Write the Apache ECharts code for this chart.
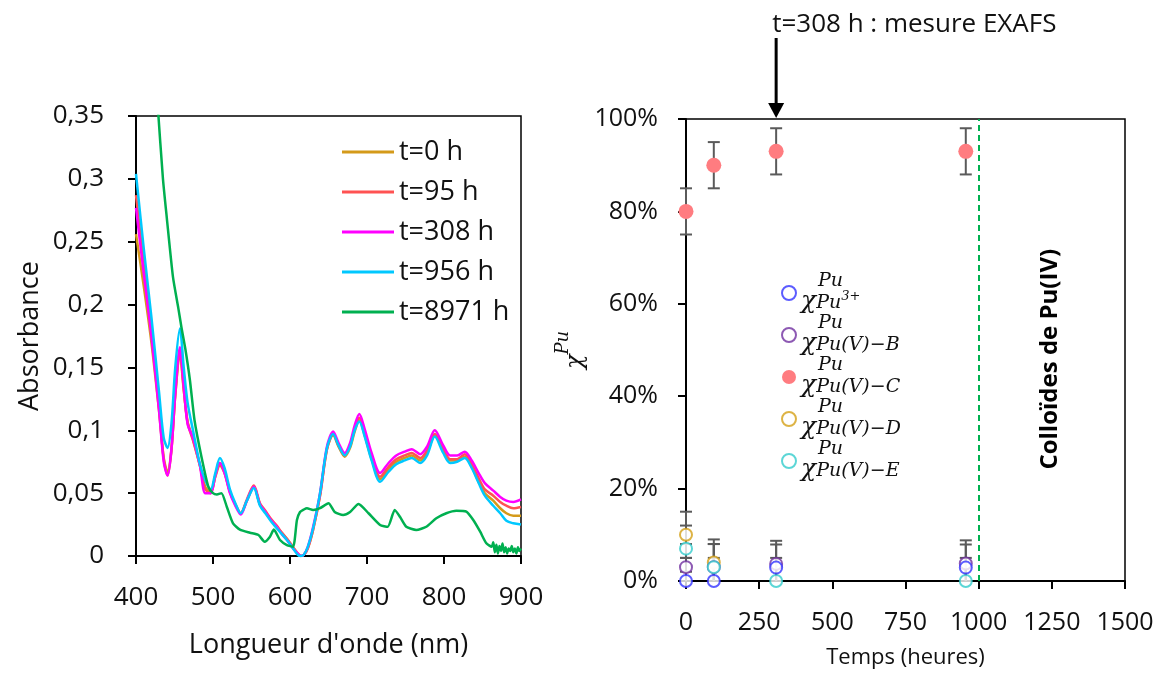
<!DOCTYPE html>
<html><head><meta charset="utf-8">
<script src="https://cdn.jsdelivr.net/npm/echarts@6/dist/echarts.min.js"></script>
<style>html,body{margin:0;padding:0;background:#fff}#c{width:1161px;height:678px}</style>
</head><body><div id="c"></div><script>
// ---------- Left chart: UV-vis spectra ----------
const WL = [400,410,420,430,436,441,446,451,457,462,467,474,483,490,497,503,509,515,522,529,536,544,553,561,568,576,583,590,597,604,610,614,618,623,630,639,648,656,663,671,678,684,690,697,706,717,728,738,749,758,769,778,788,799,808,817,827,836,845,853,864,873,881,890,900];
const A_0h = [0.256,0.215,0.170,0.115,0.078,0.067,0.085,0.128,0.160,0.132,0.107,0.093,0.072,0.055,0.051,0.063,0.072,0.066,0.051,0.041,0.034,0.044,0.055,0.041,0.035,0.028,0.023,0.018,0.013,0.007,0.002,0.000,0.001,0.006,0.021,0.048,0.085,0.096,0.087,0.079,0.086,0.099,0.108,0.096,0.077,0.061,0.069,0.075,0.078,0.080,0.076,0.082,0.096,0.084,0.076,0.076,0.079,0.071,0.059,0.050,0.044,0.038,0.034,0.032,0.032];
const A_95h = [0.287,0.232,0.180,0.118,0.077,0.064,0.084,0.128,0.163,0.133,0.106,0.092,0.072,0.053,0.050,0.064,0.074,0.067,0.051,0.041,0.034,0.045,0.056,0.042,0.036,0.029,0.024,0.018,0.013,0.007,0.002,0.000,0.001,0.006,0.021,0.048,0.085,0.097,0.088,0.080,0.088,0.101,0.110,0.098,0.079,0.063,0.071,0.077,0.080,0.082,0.078,0.084,0.097,0.085,0.077,0.077,0.081,0.073,0.062,0.053,0.048,0.043,0.040,0.038,0.039];
const A_308h = [0.277,0.225,0.175,0.115,0.075,0.064,0.085,0.130,0.166,0.135,0.105,0.094,0.072,0.050,0.050,0.064,0.074,0.066,0.050,0.040,0.033,0.044,0.055,0.041,0.035,0.028,0.023,0.017,0.012,0.006,0.002,0.000,0.001,0.007,0.023,0.050,0.087,0.099,0.090,0.082,0.090,0.104,0.113,0.101,0.082,0.066,0.074,0.080,0.083,0.085,0.081,0.087,0.100,0.088,0.080,0.080,0.083,0.076,0.066,0.058,0.052,0.047,0.044,0.043,0.045];
const A_956h = [0.304,0.245,0.190,0.130,0.094,0.086,0.105,0.150,0.181,0.150,0.122,0.100,0.073,0.060,0.053,0.066,0.078,0.070,0.053,0.042,0.034,0.044,0.054,0.040,0.034,0.027,0.022,0.017,0.012,0.006,0.001,0.000,0.001,0.007,0.022,0.050,0.086,0.097,0.088,0.080,0.087,0.100,0.107,0.095,0.076,0.059,0.067,0.073,0.076,0.078,0.074,0.080,0.095,0.082,0.074,0.075,0.078,0.070,0.058,0.048,0.040,0.034,0.028,0.026,0.025];
const WL_G = [428,435,440,448,455,459,464,470,476,485,494,500,505,511,518,526,535,548,559,567,574,579,587,596,604,609,613,618,622,630,639,650,658,669,678,689,702,717,727,736,743,751,764,777,790,803,816,829,838,847,855,862,864,866,868,870,872,874,876,878,880,882,884,886,888,890,892,894,896,898,900];
const A_8971h = [0.360,0.300,0.269,0.222,0.197,0.182,0.165,0.140,0.108,0.079,0.055,0.050,0.049,0.050,0.039,0.026,0.021,0.0185,0.0167,0.0114,0.0154,0.021,0.0127,0.0087,0.0074,0.0286,0.035,0.037,0.038,0.0366,0.038,0.042,0.035,0.0326,0.035,0.0414,0.034,0.0247,0.0233,0.0366,0.031,0.0233,0.0207,0.0233,0.030,0.034,0.036,0.0353,0.0286,0.0193,0.0101,0.0074,0.011,0.003,0.009,0.002,0.008,0.004,0.010,0.003,0.007,0.002,0.006,0.004,0.008,0.003,0.006,0.002,0.007,0.004,0.006];
const SPEC_NAMES = ['t=0 h','t=95 h','t=308 h','t=956 h','t=8971 h'];
const SPEC_COLORS = ['#D49A1A','#FF5252','#FF00FF','#00C8FF','#00B050'];

// ---------- Right chart: fractions vs time ----------
const T_H = [0, 95, 308, 956];
const X_PU3 = [0, 0, 2.9, 2.9];
const X_B = [3, 3, 3.7, 3.8];
const X_C = [80, 90, 93, 93];
const X_D = [10, 4, null, null];
const X_E = [7, 3, 0, 0];
const ERR = 5;
const FRAC_NAMES = ['Pu3+','Pu(V)-B','Pu(V)-C','Pu(V)-D','Pu(V)-E'];
const FRAC_SUBS = ['{sub|Pu}{sub2|3+}','{sub|Pu(V)−B}','{sub|Pu(V)−C}','{sub|Pu(V)−D}','{sub|Pu(V)−E}'];
const FRAC_COLORS = ['#3333FF','#7030A0','#FF7C80','#D4A017','#33CCCC'];
const COLLOID_LIMIT = 1000;
const EXAFS_T = 308;

const FONT = '"Open Sans", sans-serif';
const MATH = '"DejaVu Serif", serif';

function pairs(xs, ys){ return xs.map((x,i)=> ys[i]==null ? null : [x, ys[i]]).filter(d=>d); }

const specSeries = [A_0h, A_95h, A_308h, A_956h].map((arr, i) => ({
  name: SPEC_NAMES[i], type:'line', xAxisIndex:0, yAxisIndex:0,
  data: pairs(WL, arr), showSymbol:false, symbol:'none', smooth:0.3,
  lineStyle:{width:2.5, color:SPEC_COLORS[i]}, itemStyle:{color:SPEC_COLORS[i]}, clip:true, z:2+i
}));
specSeries.push({
  name: SPEC_NAMES[4], type:'line', xAxisIndex:0, yAxisIndex:0,
  data: pairs(WL_G, A_8971h), showSymbol:false, symbol:'none', smooth:0.2,
  lineStyle:{width:2.5, color:SPEC_COLORS[4]}, itemStyle:{color:SPEC_COLORS[4]}, clip:true, z:7
});

const fracArrays = [X_PU3, X_B, X_C, X_D, X_E];
const drawOrder = [2, 3, 1, 4, 0];
const fracSeries = drawOrder.map((k, j) => ({
  name: FRAC_NAMES[k], type:'scatter', xAxisIndex:1, yAxisIndex:1,
  data: pairs(T_H, fracArrays[k]),
  symbol: k===2 ? 'circle' : 'emptyCircle',
  symbolSize: k===2 ? 15 : 12,
  itemStyle: k===2 ? {color:FRAC_COLORS[k], opacity:1} : {color:FRAC_COLORS[k], borderColor:FRAC_COLORS[k], borderWidth:2.2},
  z: 10 + j
}));

const errData = [];
fracArrays.forEach(arr => arr.forEach((v,i) => { if (v!=null) errData.push([T_H[i], Math.max(0, v-ERR), Math.min(100, v+ERR), v-ERR >= 0 ? 1 : 0]); }));

const errSeries = {
  type:'custom', xAxisIndex:1, yAxisIndex:1, data: errData, z:5, silent:true,
  renderItem: function(params, api){
    const x = api.value(0), lo = api.value(1), hi = api.value(2), capLo = api.value(3);
    const pLo = api.coord([x, lo]), pHi = api.coord([x, hi]);
    const hw = 6, st = {stroke:'#5A5A5A', lineWidth:2};
    const ch = [
      {type:'line', shape:{x1:pLo[0], y1:pLo[1], x2:pHi[0], y2:pHi[1]}, style:st},
      {type:'line', shape:{x1:pHi[0]-hw, y1:pHi[1], x2:pHi[0]+hw, y2:pHi[1]}, style:st}
    ];
    if (capLo) ch.push({type:'line', shape:{x1:pLo[0]-hw, y1:pLo[1], x2:pLo[0]+hw, y2:pLo[1]}, style:st});
    return {type:'group', children: ch};
  }
};

const limitSeries = {
  type:'line', xAxisIndex:1, yAxisIndex:1, data:[], silent:true,
  markLine:{symbol:'none', silent:true, label:{show:false},
    lineStyle:{color:'#00B050', type:[6,4], width:2},
    data:[{xAxis: COLLOID_LIMIT}]}
};

const axisLineStyle = {color:'#000', width:2};
const leftLabel = {color:'#111', fontFamily:FONT, fontSize:26};
const rightLabel = {color:'#111', fontFamily:FONT, fontSize:25};

const chart = echarts.init(document.getElementById('c'), null, {renderer:'canvas'});
const option = {
  animation:false,
  backgroundColor:'#fff',
  grid:[
    {left:136, top:116, width:385, height:440, show:true, borderColor:'#000', borderWidth:1.5, backgroundColor:'transparent'},
    {left:686, top:119, width:439, height:462, show:true, borderColor:'#000', borderWidth:1.5, backgroundColor:'transparent'}
  ],
  xAxis:[
    {gridIndex:0, type:'value', min:400, max:900, interval:100,
      name:"Longueur d'onde (nm)", nameLocation:'middle', nameGap:76,
      nameTextStyle:{color:'#111', fontFamily:FONT, fontSize:27},
      axisLine:{lineStyle:axisLineStyle}, axisTick:{length:8, lineStyle:{color:'#000', width:2}},
      axisLabel:Object.assign({margin:29, formatter: v => String(v)}, leftLabel), splitLine:{show:false}},
    {gridIndex:1, type:'value', min:0, max:1500, interval:250,
      name:'Temps (heures)', nameLocation:'middle', nameGap:66,
      nameTextStyle:{color:'#111', fontFamily:FONT, fontSize:22},
      axisLine:{lineStyle:axisLineStyle}, axisTick:{length:8, lineStyle:{color:'#000', width:2}},
      axisLabel:Object.assign({margin:29, formatter: v => String(v)}, rightLabel), splitLine:{show:false}}
  ],
  yAxis:[
    {gridIndex:0, type:'value', min:0, max:0.35, interval:0.05,
      name:'Absorbance', nameLocation:'middle', nameGap:92, nameRotate:90,
      nameTextStyle:{color:'#111', fontFamily:FONT, fontSize:27},
      axisLine:{lineStyle:axisLineStyle}, axisTick:{length:8, lineStyle:{color:'#000', width:2}},
      axisLabel:Object.assign({margin:32, formatter:v => String(+v.toFixed(2)).replace('.', ',')}, leftLabel),
      splitLine:{show:false}},
    {gridIndex:1, type:'value', min:0, max:100, interval:20,
      name:'{chi|χ}{sup|Pu}', nameLocation:'middle', nameGap:98, nameRotate:90,
      nameTextStyle:{rich:{
        chi:{fontFamily:MATH, fontStyle:'italic', fontSize:24, lineHeight:34, verticalAlign:'bottom', color:'#111'},
        sup:{fontFamily:MATH, fontStyle:'italic', fontSize:18, lineHeight:34, verticalAlign:'top', color:'#111', padding:[0,0,12,0]}}},
      axisLine:{lineStyle:axisLineStyle}, axisTick:{length:8, lineStyle:{color:'#000', width:2}},
      axisLabel:Object.assign({margin:28, formatter:'{value}%'}, rightLabel),
      splitLine:{show:false}}
  ],
  legend:[
    {data:SPEC_NAMES, orient:'vertical', left:337, top:132, itemWidth:52, itemHeight:3, itemGap:10, icon:'rect',
      textStyle:{color:'#111', fontFamily:FONT, fontSize:27, lineHeight:30}, selectedMode:false},
    {data:FRAC_NAMES, orient:'vertical', left:776, top:267, itemWidth:14, itemHeight:14, itemGap:0, selectedMode:false,
      formatter: name => '{pad|}{sup|Pu}\n{chi|χ}' + FRAC_SUBS[FRAC_NAMES.indexOf(name)],
      textStyle:{color:'#111', rich:{
        pad:{width:17, height:16},
        sup:{fontFamily:MATH, fontStyle:'italic', fontSize:19, lineHeight:17, color:'#111'},
        chi:{fontFamily:MATH, fontStyle:'italic', fontSize:25, lineHeight:23, color:'#111'},
        sub:{fontFamily:MATH, fontStyle:'italic', fontSize:19, lineHeight:23, verticalAlign:'bottom', color:'#111', padding:[4,0,0,0]},
        sub2:{fontFamily:MATH, fontStyle:'italic', fontSize:13, lineHeight:23, verticalAlign:'top', color:'#111'}
      }}}
  ],
  series: specSeries.concat([errSeries, limitSeries]).concat(fracSeries)
};
chart.setOption(option);

// Annotation arrow at t = 308 h and side label, placed through the axis scales
const px = chart.convertToPixel({xAxisIndex:1}, EXAFS_T);
const pTop = chart.convertToPixel({yAxisIndex:1}, 100);
const pLim = chart.convertToPixel({xAxisIndex:1}, COLLOID_LIMIT);
const pRight = chart.convertToPixel({xAxisIndex:1}, 1500);
const pMid = chart.convertToPixel({yAxisIndex:1}, 48);
chart.setOption({graphic:[
  {type:'text', left:px - 4, top:12, style:{text:'t=308 h : mesure EXAFS', font:'26px ' + FONT, fill:'#111'}},
  {type:'line', shape:{x1:px, y1:38, x2:px, y2:pTop - 14}, style:{stroke:'#000', lineWidth:3}},
  {type:'polygon', shape:{points:[[px-8, pTop-16],[px+8, pTop-16],[px, pTop-1]]}, style:{fill:'#000'}},
  {type:'text', x:(pLim + pRight)/2 - 2, y:pMid, rotation:Math.PI/2,
    style:{text:'Colloïdes de Pu(IV)', font:'bold 24px ' + FONT, fill:'#000', textAlign:'center', textVerticalAlign:'middle'}}
]});
</script></body></html>
